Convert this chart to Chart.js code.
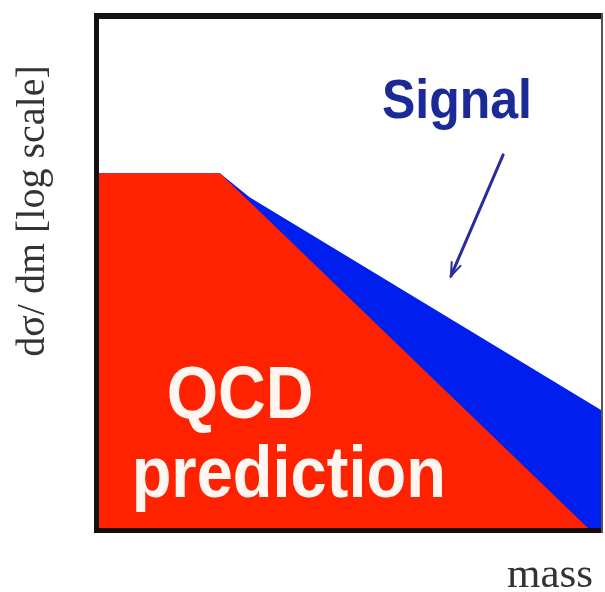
<!DOCTYPE html>
<html>
<head>
<meta charset="utf-8">
<script src="https://cdn.jsdelivr.net/npm/chart.js@4.4.1/dist/chart.umd.min.js"></script>
<style>
html,body{margin:0;padding:0;background:#fff;}
#wrap{width:605px;height:592px;position:relative;}
</style>
</head>
<body>
<div id="wrap"><canvas id="c" width="605" height="592"></canvas></div>
<script>
// Data (arbitrary units: mass 0..100, log cross-section 0..100)
const qcdMass  = [0, 24.1, 97.4];
const qcdXsec  = [69.7, 69.7, 0];
const sigMass  = [0, 24.1, 30.0, 100];
const sigXsec  = [69.7, 69.7, 65.0, 23.2];
const yLabel = 'dσ/ dm [log scale]';
const xLabel = 'mass';

const toPts = (xs, ys) => xs.map((x, i) => ({x: x, y: ys[i]}));

const decor = {
  id: 'decor',
  afterDatasetsDraw(chart) {
    const ctx = chart.ctx, xs = chart.scales.x, ys = chart.scales.y;
    const a = chart.chartArea;
    ctx.save();
    // frame
    ctx.fillStyle = '#111';
    ctx.fillRect(a.left - 5, a.top - 6, a.right - a.left + 7, 6);
    ctx.fillRect(a.left - 5, a.top - 6, 5, a.bottom - a.top + 11);
    ctx.fillStyle = '#1a0a08';
    ctx.fillRect(a.left - 5, a.bottom, a.right - a.left + 7, 5);
    ctx.fillStyle = '#555';
    ctx.fillRect(a.right, a.top - 6, 2, a.bottom - a.top + 11);

    // stretched text helper
    const txt = (s, x, y, font, color, sy) => {
      ctx.save();
      ctx.translate(x, y);
      ctx.scale(1, sy);
      ctx.font = font;
      ctx.fillStyle = color;
      ctx.textAlign = 'center';
      ctx.textBaseline = 'alphabetic';
      ctx.fillText(s, 0, 0);
      ctx.restore();
    };
    txt('QCD', xs.getPixelForValue(28.1), ys.getPixelForValue(21.6), 'bold 66px "Liberation Sans", Arial, sans-serif', '#fff6f2', 1.11);
    txt('prediction', xs.getPixelForValue(37.8), ys.getPixelForValue(6.1), 'bold 65px "Liberation Sans", Arial, sans-serif', '#fff6f2', 1.11);
    txt('Signal', xs.getPixelForValue(71.3), ys.getPixelForValue(80.6), 'bold 50px "Liberation Sans", Arial, sans-serif', '#1c2a98', 1.11);

    // arrow
    const x0 = xs.getPixelForValue(80.5), y0 = ys.getPixelForValue(73.3);
    const x1 = xs.getPixelForValue(70.1), y1 = ys.getPixelForValue(49.5);
    ctx.strokeStyle = '#2a2c9c';
    ctx.lineWidth = 3;
    ctx.lineCap = 'round';
    ctx.beginPath(); ctx.moveTo(x0, y0); ctx.lineTo(x1, y1); ctx.stroke();
    const ang = Math.atan2(y1 - y0, x1 - x0);
    ctx.lineWidth = 2;
    ctx.beginPath();
    ctx.moveTo(x1 - 14 * Math.cos(ang - 0.35), y1 - 14 * Math.sin(ang - 0.35));
    ctx.lineTo(x1, y1);
    ctx.lineTo(x1 - 14 * Math.cos(ang + 0.35), y1 - 14 * Math.sin(ang + 0.35));
    ctx.stroke();

    // axis labels
    ctx.fillStyle = '#333';
    ctx.font = '40px "Liberation Serif", "Times New Roman", serif';
    ctx.save();
    ctx.translate(44, 211);
    ctx.rotate(-Math.PI / 2);
    ctx.textAlign = 'center';
    ctx.textBaseline = 'alphabetic';
    ctx.fillText(yLabel, 0, 0);
    ctx.restore();
    ctx.font = '43px "Liberation Serif", "Times New Roman", serif';
    ctx.textAlign = 'center';
    ctx.fillText(xLabel, 550, 587);
    ctx.restore();
  }
};

new Chart(document.getElementById('c'), {
  type: 'scatter',
  data: {
    datasets: [
      { label: 'QCD prediction', data: toPts(qcdMass, qcdXsec), showLine: true,
        borderWidth: 0, pointRadius: 0, tension: 0, fill: 'origin',
        backgroundColor: 'rgb(255,34,0)', borderColor: 'rgb(255,34,0)' },
      { label: 'Signal', data: toPts(sigMass, sigXsec), showLine: true,
        borderWidth: 0, pointRadius: 0, tension: 0, fill: 'origin',
        backgroundColor: 'rgb(0,30,238)', borderColor: 'rgb(0,30,238)' }
    ]
  },
  options: {
    responsive: false,
    animation: false,
    layout: { padding: { left: 99, top: 19, right: 4, bottom: 64 } },
    plugins: { legend: { display: false }, tooltip: { enabled: false } },
    scales: {
      x: { type: 'linear', min: 0, max: 100, display: false },
      y: { type: 'linear', min: 0, max: 100, display: false }
    }
  },
  plugins: [decor]
});
</script>
</body>
</html>
